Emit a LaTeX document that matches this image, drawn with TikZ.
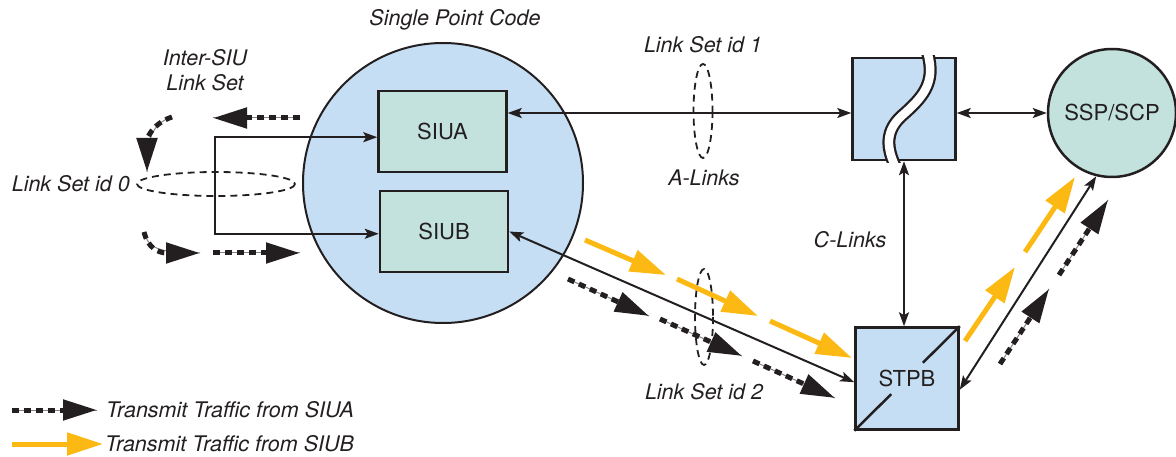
\documentclass[tikz,border=0pt]{standalone}
\usepackage{fontspec}
\setmainfont{TeX Gyre Heros}
\usetikzlibrary{arrows.meta,calc}
\definecolor{spcblue}{HTML}{C6DEF3}
\definecolor{siuteal}{HTML}{C3E1DD}
\definecolor{traffic}{HTML}{FDB913}
\definecolor{ink}{HTML}{231F20}
\begin{document}
\begin{tikzpicture}[x=1pt,y=-1pt,
  lbl/.style={font=\fontsize{21.5}{25}\selectfont\itshape, text=ink, inner sep=0pt},
  boxtxt/.style={font=\fontsize{22}{24}\selectfont, text=ink},
  siubox/.style={draw=ink, line width=2.5pt, fill=siuteal, minimum width=128pt, minimum height=81pt, boxtxt},
  stpbox/.style={draw=ink, line width=2.5pt, fill=spcblue, minimum width=103pt, minimum height=102pt, boxtxt},
  link/.style={draw=ink, line width=2pt, {Stealth[length=14pt,width=10pt,inset=3pt]}-{Stealth[length=14pt,width=10pt,inset=3pt]}},
  ytraf/.style={draw=traffic, line width=5pt, -{Triangle[length=36pt,width=22pt]}},
  btraf/.style={draw=ink, line width=5pt, dash pattern=on 7pt off 5pt, -{Triangle[length=34pt,width=20pt]},
     preaction={draw=ink!55, line width=1pt, solid, arrows=-}},
  lset/.style={draw=ink, line width=1.8pt, dash pattern=on 7pt off 5pt}
]
\useasboundingbox (0,0) rectangle (1176,457);

% single point code circle
\node[circle, draw=ink, line width=2pt, fill=spcblue, minimum size=280pt] (spc) at (443,183) {};
\node[lbl] (spclbl) at (455,20) {Single Point Code};

% SIU boxes
\node[siubox] (siua) at (442.5,131.5) {SIUA};
\node[siubox] (siub) at (444,231.5) {SIUB};

% inter-SIU link set bracket
\coordinate (lb) at (215,185);
\draw[link] (siua.185) -| (lb) |- (siub.182);
\draw[lset] (216,184) ellipse [x radius=79, y radius=12];
\node[lbl, anchor=east] (ls0) at (130,184) {Link Set id 0};
\node[lbl, align=center] (islbl) at (205,70) {Inter-SIU\\Link Set};

% left traffic arrows (SIUA)
\draw[btraf] (300,118) -- (213,118);
\draw[btraf] (172,117) .. controls (151,124) and (147,140) .. (147,172);
\draw[btraf] (144,232) .. controls (148,248) and (158,253) .. (200,253);
\draw[btraf] (213,253) -- (300,253);

% STP A with break
\node[stpbox] (stpa) at (904,109) {};
\begin{scope}
  \clip ($(stpa.north west)+(-1.3,-1.3)$) rectangle ($(stpa.south east)+(1.3,1.3)$);
  \draw[ink, line width=13pt] (926,48) .. controls (937,80) and (925,95) .. (905,113) .. controls (884,130) and (886,148) .. (897,170);
  \draw[white, line width=8.5pt] (926,48) .. controls (937,80) and (925,95) .. (905,113) .. controls (884,130) and (886,148) .. (897,170);
\end{scope}

% SSP/SCP
\node[circle, draw=ink, line width=2.5pt, fill=siuteal, minimum size=128pt, boxtxt] (ssp) at (1112,113) {SSP/SCP};

% STP B
\node[stpbox] (stpb) at (907,378.5) {STPB};
\draw[ink, line width=2.5pt] (stpb.south west) -- ($(stpb.south west)!0.35!(stpb.north east)$);
\draw[ink, line width=2.5pt] ($(stpb.south west)!0.65!(stpb.north east)$) -- (stpb.north east);

% A-links
\coordinate (aY) at (700,113);
\draw[link] (siua.east |- aY) -- (stpa.west |- aY);
\draw[lset] (703,111) ellipse [x radius=9.5, y radius=47];
\node[lbl] (ls1) at (703,45) {Link Set id 1};
\node[lbl] (alinks) at (704,178) {A-Links};

% STPA - SSP
\draw[link] (stpa.east |- ssp.west) -- (ssp.west);

% C-links
\draw[link] (stpa.south) -- (stpa.south |- stpb.north);
\node[lbl] (clinks) at (850,240) {C-Links};

% SIUB - STPB
\draw[link] (siub.east) -- (stpb.184);
\draw[lset] (704,317) ellipse [x radius=9, y radius=48];
\node[lbl] (ls2) at (704,392) {Link Set id 2};

% STPB - SSP
\draw[link] (stpb.-12.7) -- (ssp.256.6);

% traffic SIU -> STPB
\draw[ytraf] (585,240) -- (666,275);
\draw[ytraf] (677,279) -- (758,316);
\draw[ytraf] (770,321) -- (852,358);
\draw[btraf] (568,279) -- (649,316);
\draw[btraf] (660,319) -- (742,356);
\draw[btraf] (753,361) -- (835,398);

% traffic STPB -> SSP
\draw[ytraf] (965,341) -- (1015,267);
\draw[ytraf] (1025,252) -- (1075,177);
\draw[btraf] (1000,364) -- (1049,289);
\draw[btraf] (1059,275) -- (1108,200);

% legend
\draw[btraf] (12,410) -- (97,410);
\node[lbl, anchor=west] (lgA) at (106,410) {Transmit Traffic from SIUA};
\draw[ytraf] (12,444) -- (103,444);
\node[lbl, anchor=west] (lgB) at (105,444) {Transmit Traffic from SIUB};
\end{tikzpicture}
\end{document}
